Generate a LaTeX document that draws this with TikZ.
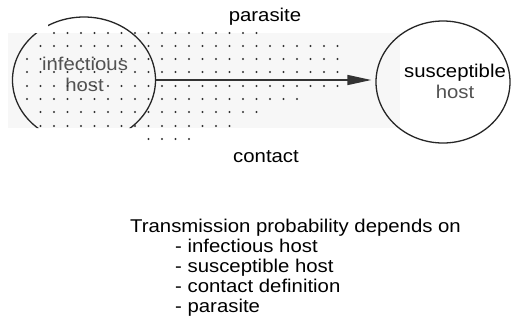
\documentclass[tikz,border=0pt]{standalone}
\usepackage{fontspec}
\setmainfont{Liberation Sans}[FakeStretch=1.1]
\usetikzlibrary{arrows.meta,shapes.geometric}
\begin{document}
\begin{tikzpicture}[x=1pt,y=-1pt,
  txt/.style={font=\fontsize{18.5}{22}\selectfont, inner sep=0pt},
  dotmark/.style={fill=black!80},
  rim/.style={line width=1.3pt, draw=black!85},
  link/.style={line width=1.5pt, draw=black!80, -{Triangle[length=24pt,width=10pt]}}]
\useasboundingbox (0,0) rectangle (512,330);
% faint band
\fill[black!3] (8,33) rectangle (400,128);
% hosts (shapes)
\node[ellipse, minimum width=143pt, minimum height=126pt, inner sep=0pt] (inf) at (84,80) {};
\node[ellipse, rim, minimum width=134pt, minimum height=122pt, inner sep=0pt] (sus) at (443,82) {};
% texts in hosts
\node[txt, anchor=base, text=black!68] (inf1) at (85,70) {infectious};
\node[txt, anchor=base, text=black!68] (inf2) at (84.5,91) {host};
\node[txt, anchor=base] (sus1) at (455,77) {susceptible};
\node[txt, anchor=base, text=black!68] (sus2) at (455,98) {host};
% dots
\foreach \yy/\a/\b in {33/2/17, 46/1/23, 59/0/23, 72/0/23, 86/0/23, 99/0/20, 112/1/17, 126/1/15, 139/9/12}
  \foreach \k in {\a,...,\b}
    \fill[dotmark] (27+13.5*\k,\yy) circle[radius=1.05pt];
% infectious host outline, partly cut
\begin{scope}
  \clip (0,33) rectangle (200,128) (48,0) rectangle (140,33);
  \draw[rim] (84,80) ellipse [x radius=71.5pt, y radius=63pt];
\end{scope}
% contact arrow
\draw[link, shorten >=4pt] (inf.east) -- (inf.east -| sus.west);
% labels
\node[txt, anchor=base] (par) at (265,21) {parasite};
\node[txt, anchor=base] (con) at (266,162) {contact};
\node[txt, anchor=base west] (head) at (130,232) {Transmission probability depends on};
\node[txt, anchor=base west] (l1) at (175,252) {- infectious host};
\node[txt, anchor=base west] (l2) at (175,272) {- susceptible host};
\node[txt, anchor=base west] (l3) at (175,292) {- contact definition};
\node[txt, anchor=base west] (l4) at (175,312) {- parasite};
\end{tikzpicture}
\end{document}
